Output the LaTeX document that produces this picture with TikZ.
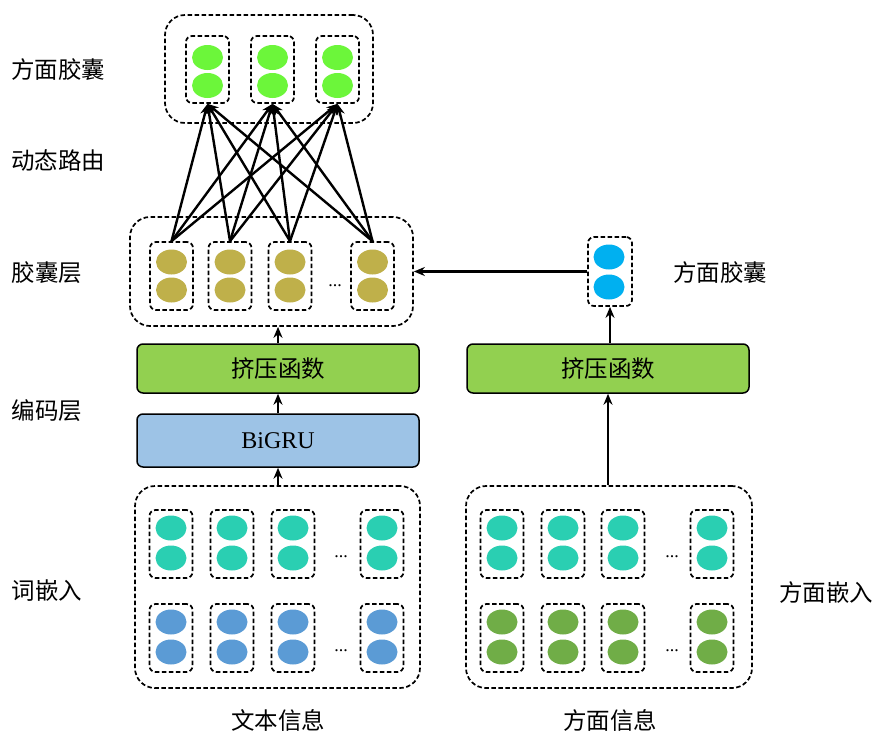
\documentclass[tikz,border=0pt]{standalone}
\usepackage{fontspec}
\setmainfont{Liberation Serif}
\newfontfamily\cjk{Noto Sans CJK SC}
\usetikzlibrary{shapes.geometric,arrows.meta}
\definecolor{topgreen}{HTML}{6CF63A}
\definecolor{olive}{HTML}{BFB04A}
\definecolor{sqgreen}{HTML}{92D050}
\definecolor{grublue}{HTML}{9DC3E6}
\definecolor{teal}{HTML}{2ACFB2}
\definecolor{wblue}{HTML}{5B9BD5}
\definecolor{agreen}{HTML}{70AD47}
\definecolor{cyanc}{HTML}{00B0F0}
\tikzset{
  ell/.style={ellipse, draw=none, minimum width=31pt, minimum height=25pt, inner sep=0pt},
  ibox/.style={draw, line width=1.7pt, dash pattern=on 4.5pt off 2.5pt, rounded corners=6pt, minimum width=43pt, minimum height=68pt, inner sep=0pt},
  obox/.style={draw, line width=1.7pt, dash pattern=on 4.5pt off 2.5pt, rounded corners=20pt, inner sep=0pt},
  fbox/.style={draw, line width=1.5pt, rounded corners=6pt, inner sep=0pt, font=\cjk\fontsize{23.5}{27}\selectfont},
  lbl/.style={font=\cjk\fontsize{23.5}{27}\selectfont, inner sep=0pt},
  arr/.style={-{Stealth[length=11pt,width=9pt]}, line width=2.4pt},
  dots/.style={font=\fontsize{18}{20}\selectfont, inner sep=0pt}
}
\begin{document}
\begin{tikzpicture}[x=1pt,y=-1pt]
\useasboundingbox (0,0) rectangle (874,734);
% top aspect capsules
\node[obox, minimum width=208pt, minimum height=108pt] (topouter) at (269,69) {};
\foreach \i/\x in {1/207.5,2/272.5,3/337.5}{
  \node[ibox, minimum height=67pt] (t\i) at (\x,69.5) {};
  \node[ell, fill=topgreen] (t\i a) at (\x,57.5) {};
  \node[ell, fill=topgreen] (t\i b) at (\x,85.5) {};
}
% capsule layer
\node[obox, minimum width=283pt, minimum height=109pt] (capouter) at (271.5,271.5) {};
\foreach \i/\x in {1/171.5,2/230,3/290,4/372.5}{
  \node[ibox] (c\i) at (\x,276) {};
  \node[ell, fill=olive] (c\i a) at (\x,262) {};
  \node[ell, fill=olive] (c\i b) at (\x,290) {};
}
\node[dots] (cdots) at (335,286) {...};
\foreach \i in {1,2,3,4}{
  \foreach \j in {1,2,3}{
    \draw[arr] (c\i.north) -- (t\j.south);
  }
}
% squeeze & BiGRU left
\node[fbox, fill=sqgreen, minimum width=282pt, minimum height=49pt] (sqL) at (278,368.5) {挤压函数};
\node[fbox, fill=grublue, minimum width=282pt, minimum height=53pt, font=\fontsize{24}{27}\selectfont] (gru) at (278,440.5) {BiGRU};
% squeeze right and aspect capsule
\node[fbox, fill=sqgreen, minimum width=282pt, minimum height=49pt] (sqR) at (608,368.5) {挤压函数};
\node[ibox, minimum width=44pt, minimum height=69pt] (acap) at (610,271.5) {};
\node[ell, fill=cyanc] (acapa) at (609,257) {};
\node[ell, fill=cyanc] (acapb) at (609,287) {};
% bottom embedding left
\node[obox, minimum width=285pt, minimum height=202pt] (embL) at (277.5,587) {};
\foreach \i/\x in {1/171,2/232,3/293,4/382}{
  \node[ibox] (wl\i) at (\x,544) {};
  \node[ell, fill=teal] at (\x,528) {};
  \node[ell, fill=teal] at (\x,558) {};
  \node[ibox] (wm\i) at (\x,638) {};
  \node[ell, fill=wblue] at (\x,622) {};
  \node[ell, fill=wblue] at (\x,652) {};
}
\node[dots] (ld1) at (341,557) {...};
\node[dots] (ld2) at (341,651) {...};
% bottom embedding right
\node[obox, minimum width=286pt, minimum height=202pt] (embR) at (609,587) {};
\foreach \i/\x in {1/502,2/563,3/623,4/712}{
  \node[ibox] (al\i) at (\x,544) {};
  \node[ell, fill=teal] at (\x,528) {};
  \node[ell, fill=teal] at (\x,558) {};
  \node[ibox] (am\i) at (\x,638) {};
  \node[ell, fill=agreen] at (\x,622) {};
  \node[ell, fill=agreen] at (\x,652) {};
}
\node[dots] (rd1) at (672,557) {...};
\node[dots] (rd2) at (672,651) {...};
% connectors
\draw[arr] (embL.north -| gru.south) -- (gru.south);
\draw[arr] (gru.north) -- (sqL.south);
\draw[arr] (sqL.north) -- (sqL.north |- capouter.south);
\draw[arr] (embR.north -| sqR.south) -- (sqR.south);
\draw[arr] (sqR.north -| acap.south) -- (acap.south);
\draw[arr] (acap.west) -- (capouter.east |- acap.west);
% labels
\node[lbl] (l1) at (58,70) {方面胶囊};
\node[lbl] (l2) at (58,161) {动态路由};
\node[lbl] (l3) at (47,273) {胶囊层};
\node[lbl] (l4) at (47,411) {编码层};
\node[lbl] (l5) at (47,591) {词嵌入};
\node[lbl] (l6) at (278,720) {文本信息};
\node[lbl] (l7) at (610,720) {方面信息};
\node[lbl] (l8) at (826,593) {方面嵌入};
\node[lbl] (l9) at (720,273) {方面胶囊};
\end{tikzpicture}
\end{document}
